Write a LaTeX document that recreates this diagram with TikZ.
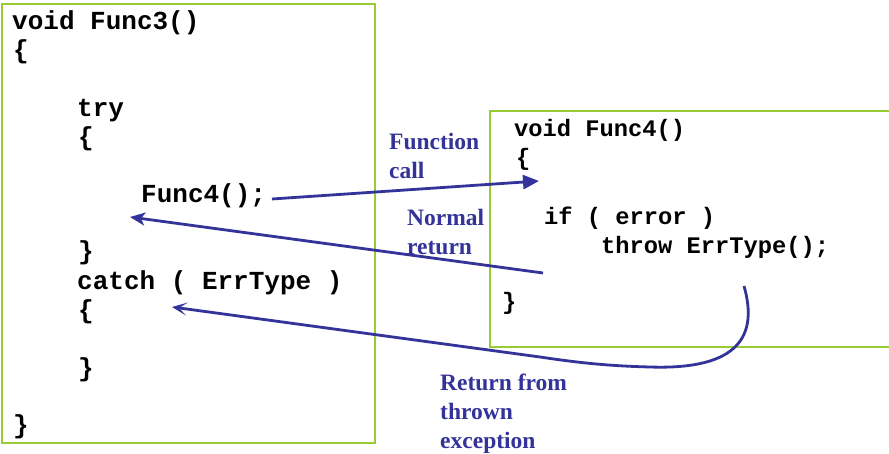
\documentclass[tikz,border=0pt]{standalone}
\usepackage{fontspec}
\newfontfamily\codefont{Liberation Mono}
\newfontfamily\lblfont{Liberation Serif}
\usetikzlibrary{arrows.meta}
\definecolor{boxgreen}{RGB}{153,204,51}
\definecolor{arrowblue}{RGB}{51,51,153}
\begin{document}
\begin{tikzpicture}[x=1pt,y=-1pt,
  codeL/.style={anchor=base west, inner sep=0pt, font=\codefont\bfseries\fontsize{26}{29}\selectfont},
  codeR/.style={anchor=base west, inner sep=0pt, font=\codefont\bfseries\fontsize{23.75}{29}\selectfont},
  lbl/.style={anchor=base west, inner sep=0pt, align=left, text=arrowblue, font=\lblfont\bfseries\fontsize{23.5}{29}\selectfont},
  codebox/.style={draw=boxgreen, line width=1.5pt},
  flow/.style={draw=arrowblue, line width=2.8pt}]
\useasboundingbox (0,0) rectangle (889,454);
\clip (0,0) rectangle (889,454);
\fill[white] (0,0) rectangle (889,454);
% boxes
\draw[codebox] (2,4) rectangle (375,443);
\draw[codebox] (490,111) rectangle (900,347);
% Func3 code
\node[codeL] (l0) at (12,30) {void Func3()};
\node[codeL] (l1) at (13,59) {\{};
\node[codeL] (l3) at (77,117) {try};
\node[codeL] (l4) at (78,146) {\{};
\node[codeL] (l6) at (141,203) {Func4();};
\node[codeL] (l8) at (78,260) {\}};
\node[codeL] (l9) at (77,290) {catch ( ErrType )};
\node[codeL] (l10) at (78,319) {\{};
\node[codeL] (l12) at (78,376) {\}};
\node[codeL] (l14) at (13,433) {\}};
% Func4 code
\node[codeR] (r0) at (514,137) {void Func4()};
\node[codeR] (r1) at (516,166) {\{};
\node[codeR] (r3) at (544,225) {if ( error )};
\node[codeR] (r4) at (601,254) {throw ErrType();};
\node[codeR] (r6) at (502,310) {\}};
% labels (base anchor = baseline of last line)
\node[lbl] (callLbl) at (389,179) {Function\\call};
\node[lbl] (retLbl) at (407,255) {Normal\\return};
\node[lbl] (excLbl) at (440,448) {Return from\\thrown\\exception};
% connector ends
\coordinate (callS) at (272,199);
\coordinate (callE) at (539,181);
\coordinate (retS) at (543,273);
\coordinate (retE) at (130,217);
\coordinate (excS) at (744,286);
\coordinate (excE) at (172,307);
% arrows
\draw[flow,-{Triangle[length=16pt,width=14pt]}] (callS) -- (callE);
\draw[flow,-{Stealth[length=15pt,width=13pt,inset=4pt]}] (retS) -- (retE);
\draw[flow,-{Stealth[length=15pt,width=13pt,inset=8pt]}] (excS) .. controls (758,335) and (740,370) .. (650,367)
  .. controls (610,366) and (580,363) .. (540,357) -- (excE);
\end{tikzpicture}
\end{document}
